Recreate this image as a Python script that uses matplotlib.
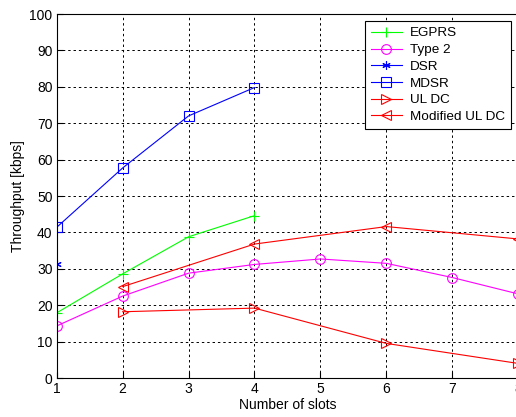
import matplotlib
matplotlib.use("Agg")
import matplotlib.pyplot as plt

plt.rcParams['font.family'] = ['Liberation Sans', 'DejaVu Sans']

slots_egprs = [1, 2, 3, 4]
egprs = [17.9, 28.6, 38.8, 44.6]
slots_type2 = [1, 2, 3, 4, 5, 6, 7, 8]
type2 = [14.3, 22.5, 28.8, 31.2, 32.7, 31.5, 27.6, 23.1]
slots_dsr = [1]
dsr = [31.2]
slots_mdsr = [1, 2, 3, 4]
mdsr = [41.4, 57.7, 72.0, 79.8]
slots_uldc = [2, 4, 6, 8]
uldc = [18.2, 19.2, 9.5, 4.0]
slots_muldc = [2, 4, 6, 8]
muldc = [25.1, 36.8, 41.6, 38.2]

x_ticks = [1, 2, 3, 4, 5, 6, 7, 8]
y_ticks = [0, 10, 20, 30, 40, 50, 60, 70, 80, 90, 100]

fig = plt.figure(figsize=(5.16, 4.17), dpi=100)
ax = fig.add_axes([56.7/516, 39/417, (518.2-56.7)/516, 364/417])

kw = dict(linewidth=0.8, markersize=7, markerfacecolor='none', markeredgewidth=0.8)
ax.plot(slots_egprs, egprs, color='#00ff00', marker='+', label='EGPRS', **kw)
ax.plot(slots_type2, type2, color='#ff00ff', marker='o', label='Type 2', **kw)
ax.plot(slots_dsr, dsr, color='#0000ff', marker=(6, 2, 0), label='DSR',
        linewidth=0.8, markersize=6, markeredgewidth=0.8)
ax.plot(slots_mdsr, mdsr, color='#0000ff', marker='s', label='MDSR', **kw)
ax.plot(slots_uldc, uldc, color='#ff0000', marker='>', label='UL DC', **kw)
ax.plot(slots_muldc, muldc, color='#ff0000', marker='<', label='Modified UL DC', **kw)

ax.set_xlim(1, 8)
ax.set_ylim(0, 100)
ax.set_xticks(x_ticks)
ax.set_yticks(y_ticks)
ax.tick_params(direction='in', labelsize=10, length=4, colors='black', pad=3)
ax.grid(True, color='black', linestyle=(0, (2.5, 3)), linewidth=0.7)
for s in ax.spines.values():
    s.set_linewidth(0.8)

ax.set_xlabel('Number of slots', fontsize=10, labelpad=1)
ax.set_ylabel('Throughput [kbps]', fontsize=10, labelpad=3)

leg = fig.legend(loc='upper right', bbox_to_anchor=(511/516, 1-21/417),
                 fontsize=9.7, frameon=True, fancybox=False, edgecolor='black',
                 framealpha=1, handlelength=2.3, borderpad=0.45, labelspacing=0.32,
                 handletextpad=0.6, borderaxespad=0)
leg.get_frame().set_linewidth(0.8)

fig.savefig('out.png', dpi=100)
